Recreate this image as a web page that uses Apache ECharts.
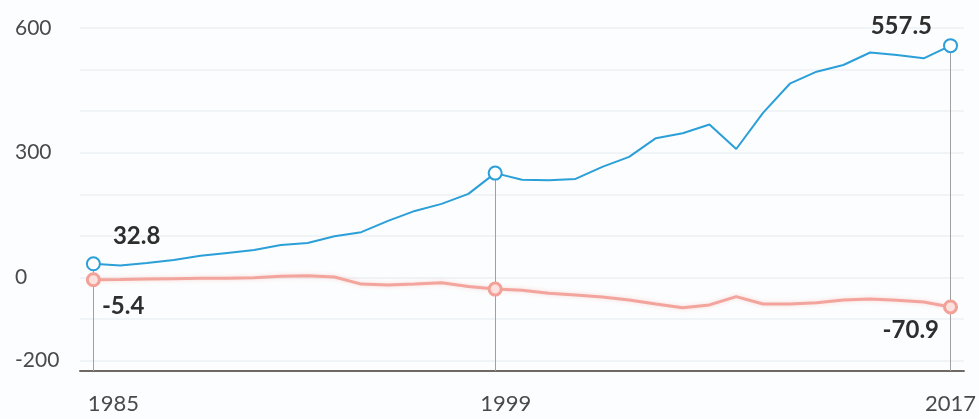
<!DOCTYPE html>
<html>
<head>
<meta charset="utf-8">
<script src="https://cdn.jsdelivr.net/npm/echarts@6/dist/echarts.min.js"></script>
<style>
  html, body { margin: 0; padding: 0; background: #fcfdfe; }
  #chart { width: 979px; height: 419px; }
</style>
</head>
<body>
<div id="chart"></div>
<script>
// Yearly periods, 1985 onward
const categories = Array.from({ length: 33 }, (_, i) => String(1985 + i));

// Upper series (blue)
const blueValues = [32.8, 29, 35, 42, 52, 59, 66, 78, 83, 99, 109, 136, 160, 177, 201, 251,
  235, 234, 237, 266, 290, 335, 347, 368, 309, 396, 466, 495, 511, 541, 535, 527, 557.5];

// Lower series (red)
const redValues = [-5.4, -5, -4, -3, -2, -2, -1, 3, 4, 1, -16, -18, -16, -12.5, -22, -28,
  -31, -38, -42, -47, -54, -64, -73, -66, -46, -64, -64, -61, -54, -52, -55, -59, -70.9];

// Axis ticks
const xTickIndex = [0, 15, 32];
const xTickText = ['1985', '1999', '2017'];
const yGridValues = [-200, -100, 0, 100, 200, 300, 400, 500, 600];
const yLabelValues = [-200, 0, 300, 600];
const yMin = -225;
const yMax = 600;

// Highlighted points and their value labels
const markedIndex = [0, 15, 32];
const blueLabelAt = { 0: { position: 'right', offset: [7, -28] }, 32: { position: 'left', offset: [-6, -19] } };
const redLabelAt = { 0: { position: 'right', offset: [-4, 27] }, 32: { position: 'left', offset: [1, 23] } };

const labelFont = { fontFamily: 'Lato', fontWeight: 'bold', fontSize: 24, color: '#2e2e2e' };

function buildData(values, labelAt) {
  return values.map((v, i) => {
    const item = { value: v };
    if (labelAt[i]) {
      item.label = Object.assign({ show: true, distance: 5, formatter: String(v) }, labelFont, labelAt[i]);
    }
    return item;
  });
}

const xPad = { 0: 40, 15: 21, 32: 0 };

const chart = echarts.init(document.getElementById('chart'), null, { renderer: 'canvas' });
chart.setOption({
  backgroundColor: '#fcfdfe',
  animation: false,
  grid: { left: 80, right: 12.5, top: 28, bottom: 48, containLabel: false },
  xAxis: {
    type: 'category',
    data: categories,
    boundaryGap: true,
    axisLine: { onZero: false, lineStyle: { color: '#6f6863', width: 2 } },
    axisTick: { show: false },
    splitLine: { show: false },
    axisLabel: {
      interval: 0,
      margin: 22,
      formatter: (val, idx) => {
        const k = xTickIndex.indexOf(idx);
        return k >= 0 ? '{t' + idx + '|' + xTickText[k] + '}' : '';
      },
      rich: Object.fromEntries(xTickIndex.map(i => ['t' + i, {
        fontFamily: 'Lato', fontSize: 22, color: '#4a4a4a', padding: [0, 0, 0, xPad[i]]
      }]))
    }
  },
  yAxis: {
    type: 'value',
    min: yMin,
    max: yMax,
    axisLine: { show: false },
    axisTick: { show: false, customValues: yGridValues },
    splitLine: { show: true, lineStyle: { color: '#edf0f3', width: 1.5 } },
    axisLabel: {
      customValues: yLabelValues,
      align: 'left',
      margin: 65,
      padding: [5, 0, 0, 0],
      fontFamily: 'Lato',
      fontSize: 21,
      color: '#4a4a4a'
    }
  },
  series: [
    {
      name: 'red',
      type: 'line',
      data: buildData(redValues, redLabelAt),
      z: 3,
      symbol: 'circle',
      showAllSymbol: true,
      symbolSize: (v, p) => markedIndex.includes(p.dataIndex) ? 12 : 0,
      itemStyle: { color: '#fbe2de', borderColor: '#f2a198', borderWidth: 3 },
      lineStyle: { color: '#f3a49c', width: 3, shadowColor: 'rgba(240,150,140,0.35)', shadowBlur: 4 }
    },
    {
      name: 'blue',
      type: 'line',
      data: buildData(blueValues, blueLabelAt),
      z: 4,
      symbol: 'circle',
      showAllSymbol: true,
      symbolSize: (v, p) => markedIndex.includes(p.dataIndex) ? 13 : 0,
      itemStyle: { color: '#ffffff', borderColor: '#2a9fd8', borderWidth: 2 },
      lineStyle: { color: '#2a9fd8', width: 2 },
      markLine: {
        silent: true,
        symbol: 'none',
        label: { show: false },
        z: 1,
        lineStyle: { color: '#a0a0a0', width: 1, type: 'solid' },
        data: markedIndex.map(i => [
          { coord: [i, blueValues[i]] },
          { coord: [i, yMin] }
        ])
      }
    }
  ]
});
</script>
</body>
</html>
